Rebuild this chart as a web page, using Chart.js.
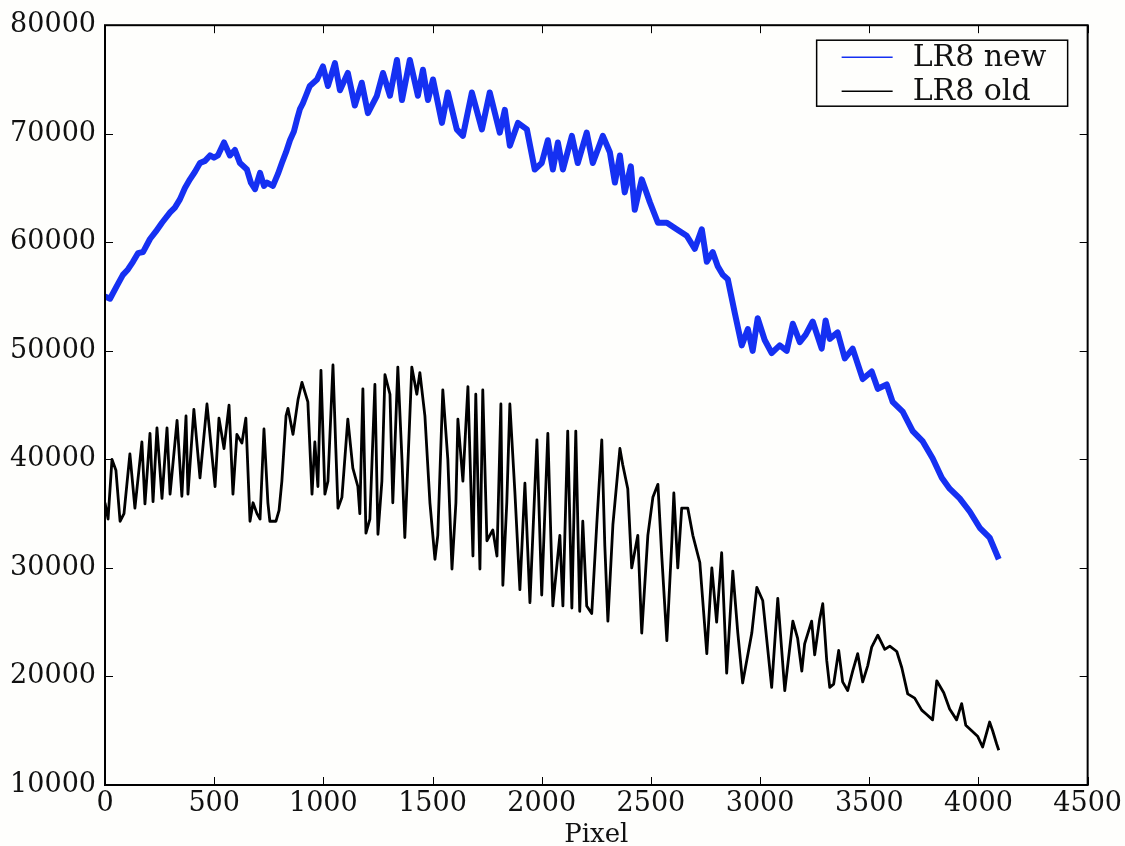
<!DOCTYPE html>
<html>
<head>
<meta charset="utf-8">
<script src="https://cdn.jsdelivr.net/npm/chart.js@4/dist/chart.umd.min.js"></script>
<style>
  html, body { margin: 0; padding: 0; background: #fefefc; }
  #wrap { width: 1125px; height: 846px; }
</style>
</head>
<body>
<div id="wrap"><canvas id="specChart" width="1125" height="846"></canvas></div>
<script>
// axis ticks
const xTicks = [0, 500, 1000, 1500, 2000, 2500, 3000, 3500, 4000, 4500];
const yTicks = [10000, 20000, 30000, 40000, 50000, 60000, 70000, 80000];

// LR8 new (blue)
const pixelNew = [0, 23, 55, 82, 105, 128, 151, 174, 206, 233, 261, 298, 320, 343, 366, 389, 412, 435, 458, 481,
  499, 517, 545, 572, 595, 618, 650, 668, 687, 710, 728, 742, 769, 792, 810, 829, 847, 865, 879, 893,
  906, 920, 938, 971, 998, 1021, 1053, 1076, 1112, 1144, 1176, 1204, 1245, 1273, 1305, 1337, 1360, 1396, 1433, 1456,
  1479, 1502, 1543, 1570, 1611, 1639, 1680, 1726, 1762, 1808, 1831, 1854, 1891, 1932, 1968, 2000, 2028, 2051, 2074, 2097,
  2138, 2165, 2206, 2234, 2280, 2312, 2335, 2358, 2380, 2408, 2426, 2458, 2495, 2532, 2573, 2618, 2664, 2701, 2733, 2756,
  2783, 2806, 2829, 2852, 2884, 2916, 2944, 2966, 2989, 3021, 3053, 3090, 3122, 3150, 3182, 3209, 3241, 3282, 3300, 3319,
  3355, 3388, 3424, 3470, 3511, 3539, 3580, 3607, 3653, 3699, 3745, 3790, 3832, 3868, 3914, 3960, 4006, 4051, 4093];
const countNew = [55000, 54800, 56000, 57000, 57500, 58200, 59000, 59100, 60300, 61000, 61800, 62750, 63200, 63950, 65000, 65800, 66500, 67300, 67500, 68000,
  67800, 68000, 69200, 68000, 68500, 67300, 66700, 65500, 64900, 66400, 65200, 65500, 65200, 66300, 67300, 68300, 69400, 70200, 71300, 72300,
  72800, 73500, 74400, 75000, 76200, 74400, 76500, 74000, 75600, 72600, 74700, 71900, 73500, 75600, 73500, 76800, 73100, 76800, 73500, 75900,
  73100, 75000, 71000, 73800, 70400, 69800, 73800, 70400, 73800, 70100, 72200, 68900, 71000, 70400, 66700, 67300, 69400, 66700, 69200, 66700,
  69800, 67300, 70100, 67300, 69800, 68300, 65500, 68000, 64600, 67000, 63000, 65800, 63700, 61800, 61800, 61200, 60600, 59400, 61200, 58200,
  59100, 57800, 57000, 56600, 53500, 50500, 52000, 50000, 53000, 51000, 49800, 50500, 50000, 52500, 50800, 51500, 52700, 50200, 52800, 51100,
  51700, 49300, 50200, 47400, 48100, 46500, 46900, 45300, 44400, 42600, 41650, 40100, 38300, 37300, 36400, 35200, 33700, 32800, 30800];

// LR8 old (black)
const pixelOld = [0, 14, 32, 50, 69, 87, 114, 137, 169, 183, 206, 220, 238, 261, 284, 298, 330, 352, 371, 380,
  407, 435, 467, 504, 522, 545, 568, 586, 604, 627, 645, 664, 678, 696, 710, 728, 746, 755, 783, 797,
  810, 829, 838, 861, 884, 902, 929, 948, 961, 975, 989, 1007, 1021, 1044, 1057, 1067, 1085, 1112, 1135, 1158,
  1167, 1181, 1195, 1213, 1236, 1250, 1268, 1282, 1305, 1318, 1341, 1360, 1373, 1392, 1405, 1428, 1442, 1465, 1488, 1511,
  1524, 1547, 1570, 1589, 1607, 1616, 1639, 1662, 1685, 1698, 1717, 1730, 1749, 1776, 1795, 1813, 1822, 1840, 1854, 1877,
  1900, 1923, 1946, 1978, 2000, 2028, 2051, 2083, 2097, 2119, 2138, 2156, 2174, 2188, 2206, 2229, 2252, 2275, 2289, 2303,
  2326, 2358, 2371, 2394, 2412, 2440, 2458, 2486, 2509, 2532, 2550, 2573, 2596, 2605, 2623, 2641, 2669, 2692, 2724, 2756,
  2779, 2801, 2824, 2847, 2875, 2898, 2920, 2962, 2985, 3012, 3053, 3081, 3113, 3150, 3172, 3191, 3204, 3236, 3250, 3273,
  3287, 3305, 3319, 3337, 3360, 3378, 3401, 3424, 3447, 3470, 3493, 3511, 3539, 3571, 3594, 3626, 3649, 3676, 3708, 3740,
  3763, 3790, 3809, 3841, 3868, 3900, 3923, 3942, 3969, 3996, 4019, 4051, 4065, 4083, 4093];
const countOld = [36000, 34500, 40000, 39000, 34300, 35000, 40500, 35500, 41600, 35900, 42400, 36100, 42900, 36400, 42900, 36800, 43600, 36600, 44000, 36800,
  44600, 38300, 45100, 37500, 43800, 41000, 45000, 36800, 42300, 41500, 43800, 34300, 36000, 35000, 34500, 42800, 36000, 34300, 34300, 35300,
  38000, 44000, 44700, 42300, 45500, 47100, 45300, 36800, 41600, 37500, 48200, 36800, 38000, 48700, 41000, 35500, 36500, 43700, 39200, 37500,
  35000, 46500, 33200, 34500, 46900, 33100, 38000, 47800, 46000, 36000, 48500, 40000, 32800, 42000, 48500, 46000, 48000, 44000, 36000, 30800,
  33000, 46400, 40000, 29900, 36000, 43700, 38000, 46700, 31100, 46000, 29900, 46400, 32500, 33500, 31100, 45100, 28400, 36000, 45100, 37000,
  28000, 37800, 26800, 41800, 27500, 42400, 26500, 33000, 26500, 42600, 26300, 42600, 26000, 34300, 26500, 25800, 34000, 41800, 32000, 25100,
  34000, 41000, 39500, 37300, 30000, 33000, 24000, 33000, 36500, 37700, 31000, 23300, 32500, 36900, 30000, 35500, 35500, 33000, 30500, 22100,
  30000, 25000, 31400, 20300, 29700, 24000, 19400, 24000, 28200, 27000, 19000, 27200, 18700, 25100, 23500, 20500, 23000, 25100, 22000, 25300,
  26700, 21500, 19000, 19300, 22400, 19500, 18700, 20500, 22100, 19500, 21000, 22700, 23800, 22500, 22800, 22300, 20800, 18400, 18000, 16900,
  16500, 16000, 19600, 18500, 17000, 16000, 17500, 15500, 15000, 14500, 13500, 15800, 15000, 13800, 13200];

const seriesNames = ['LR8 new', 'LR8 old'];
const seriesColors = ['#1530f2', '#000000'];

const serif = "'DejaVu Serif', serif";

function toPoints(xs, ys) {
  return xs.map((x, i) => ({ x: x, y: ys[i] }));
}

// matplotlib style frame with inward ticks on all four sides
const framePlugin = {
  id: 'frame',
  afterDatasetsDraw(chart) {
    const { ctx, chartArea: a, scales } = chart;
    ctx.save();
    ctx.strokeStyle = '#000';
    ctx.lineWidth = 1;
    const len = 8;
    xTicks.forEach(v => {
      const px = Math.round(scales.x.getPixelForValue(v)) + 0.5;
      ctx.beginPath();
      ctx.moveTo(px, a.bottom); ctx.lineTo(px, a.bottom - len);
      ctx.moveTo(px, a.top); ctx.lineTo(px, a.top + len);
      ctx.stroke();
    });
    yTicks.forEach(v => {
      const py = Math.round(scales.y.getPixelForValue(v)) + 0.5;
      ctx.beginPath();
      ctx.moveTo(a.left, py); ctx.lineTo(a.left + len, py);
      ctx.moveTo(a.right, py); ctx.lineTo(a.right - len, py);
      ctx.stroke();
    });
    ctx.lineWidth = 2;
    ctx.strokeRect(a.left, a.top, a.right - a.left, a.bottom - a.top);
    ctx.restore();
  }
};

// boxed legend in the upper right corner
const legendPlugin = {
  id: 'boxLegend',
  afterDraw(chart) {
    const { ctx, chartArea: a } = chart;
    const w = 251, h = 66;
    const x0 = a.right - 20 - w, y0 = a.top + 15;
    ctx.save();
    ctx.fillStyle = '#fefefc';
    ctx.fillRect(x0, y0, w, h);
    ctx.strokeStyle = '#000';
    ctx.lineWidth = 1.5;
    ctx.strokeRect(x0, y0, w, h);
    ctx.font = '30px ' + serif;
    ctx.textBaseline = 'middle';
    chart.data.datasets.forEach((ds, i) => {
      const cy = y0 + 17 + i * 34;
      ctx.strokeStyle = ds.borderColor;
      ctx.lineWidth = 1.5;
      ctx.beginPath();
      ctx.moveTo(x0 + 25, cy); ctx.lineTo(x0 + 76, cy);
      ctx.stroke();
      ctx.fillStyle = '#111';
      ctx.fillText(ds.label, x0 + 96, cy + 1);
    });
    ctx.restore();
  }
};

const ctx = document.getElementById('specChart').getContext('2d');
new Chart(ctx, {
  type: 'line',
  data: {
    datasets: [
      { label: seriesNames[0], data: toPoints(pixelNew, countNew), borderColor: seriesColors[0], borderWidth: 6 },
      { label: seriesNames[1], data: toPoints(pixelOld, countOld), borderColor: seriesColors[1], borderWidth: 2.8 }
    ]
  },
  options: {
    responsive: false,
    animation: false,
    elements: { point: { radius: 0 }, line: { tension: 0, borderJoinStyle: 'round' } },
    layout: { padding: { top: 22, right: 37, left: 0, bottom: 0 } },
    plugins: { legend: { display: false }, tooltip: { enabled: false } },
    scales: {
      x: {
        type: 'linear', min: 0, max: 4500,
        afterBuildTicks: s => { s.ticks = xTicks.map(v => ({ value: v })); },
        afterFit: s => { s.height = 61; },
        grid: { display: false, drawTicks: false },
        border: { display: false },
        ticks: { color: '#111', padding: 3, maxRotation: 0, font: { family: serif, size: 27 }, callback: v => String(v) },
        title: { display: true, text: 'Pixel', color: '#111', padding: { top: 6, bottom: -5 }, font: { family: serif, size: 26 } }
      },
      y: {
        type: 'linear', min: 10000, max: 80000,
        afterBuildTicks: s => { s.ticks = yTicks.map(v => ({ value: v })); },
        afterFit: s => { s.width = 105; },
        grid: { display: false, drawTicks: false },
        border: { display: false },
        ticks: { color: '#111', padding: 9, font: { family: serif, size: 27 }, callback: v => String(v) }
      }
    }
  },
  plugins: [framePlugin, legendPlugin]
});
</script>
</body>
</html>
